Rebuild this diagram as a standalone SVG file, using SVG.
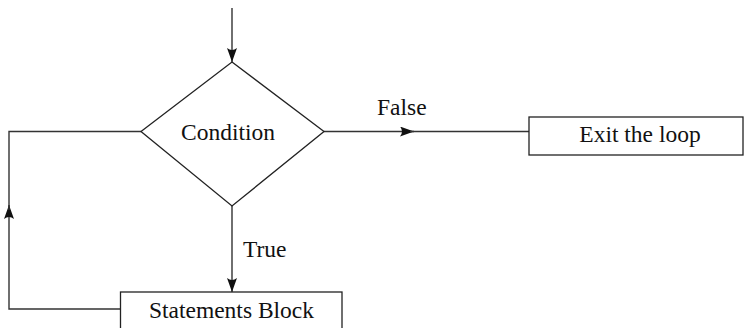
<svg xmlns="http://www.w3.org/2000/svg" width="744" height="328" viewBox="0 0 744 328">
<defs>
<style>
.shape{fill:#fff;stroke:#222;stroke-width:1.3}
.edge{fill:none;stroke:#333;stroke-width:1.4}
text{font-family:'Liberation Serif','DejaVu Serif',serif;font-size:23.5px;fill:#111}
</style>
<marker id="arr" viewBox="0 0 14 10" refX="14" refY="5" markerWidth="14" markerHeight="10" markerUnits="userSpaceOnUse" orient="auto">
<path d="M0,0 L14,5 L0,10 Q4,5 0,0 Z" fill="#111"/>
</marker>
</defs>
<g id="connectors">
<path class="edge" d="M232,8 L232,62" marker-end="url(#arr)"/>
<path class="edge" d="M232,206 L232,292" marker-end="url(#arr)"/>
<path class="edge" d="M324,131.5 L414,131.5" marker-end="url(#arr)"/>
<path class="edge" d="M410,131.5 L529,131.5"/>
<path class="edge" d="M121,309 L9,309 L9,205" marker-end="url(#arr)"/>
<path class="edge" d="M9,210 L9,131.5 L141,131.5"/>
<text x="377" y="115">False</text>
<text x="243" y="257">True</text>
</g>
<g id="condition">
<polygon class="shape" points="232,62 324,131.5 232,206 141,131.5"/>
<text x="228" y="140" text-anchor="middle">Condition</text>
</g>
<g id="exit">
<rect class="shape" x="529" y="117" width="214" height="38"/>
<text x="640" y="142" text-anchor="middle">Exit the loop</text>
</g>
<g id="statements">
<rect class="shape" x="120.5" y="292" width="221.5" height="50"/>
<text x="231.5" y="318" text-anchor="middle">Statements Block</text>
</g>
</svg>
